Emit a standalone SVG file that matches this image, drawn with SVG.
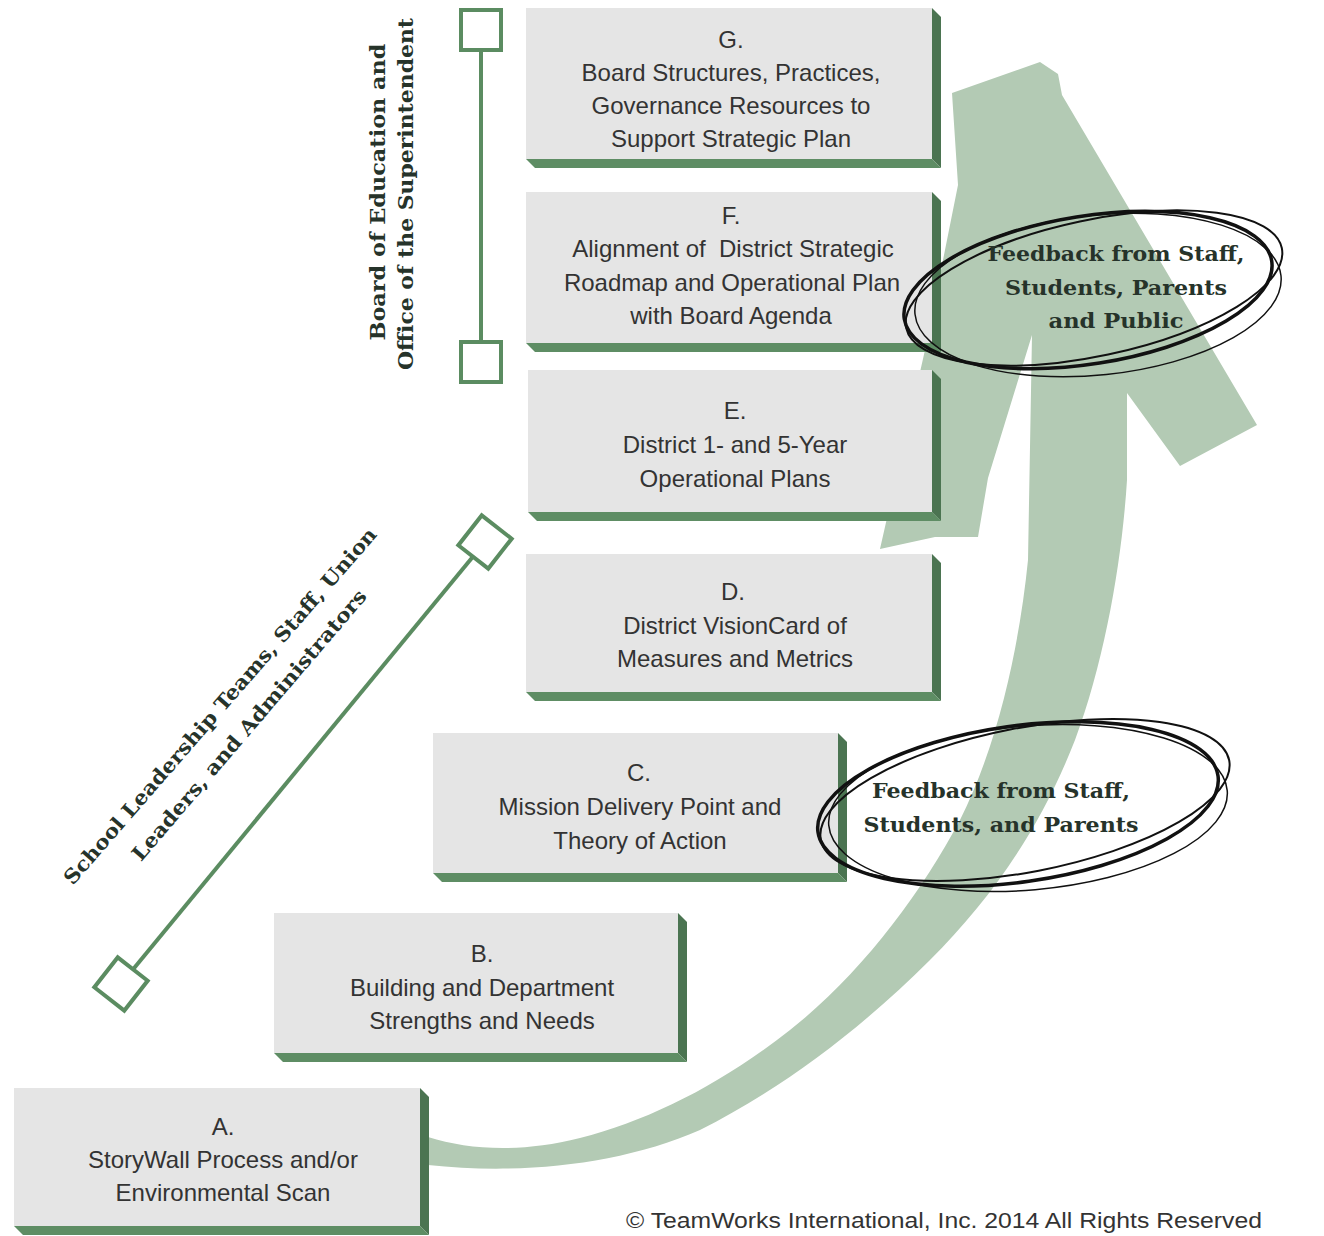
<svg xmlns="http://www.w3.org/2000/svg" width="1324" height="1236" viewBox="0 0 1324 1236">
<style>
.face{fill:#e5e5e5}
.ext-r{fill:#4b7451}
.ext-b{fill:#5e8d64}
.bt{font-family:"Liberation Sans",Arial,sans-serif;font-size:24px;fill:#333;text-anchor:middle;white-space:pre}
.slab{font-family:"DejaVu Serif",serif;font-weight:bold;font-size:20px;fill:#26332a;text-anchor:middle}
.br{fill:none;stroke:#5b8c61;stroke-width:4}
.sq{fill:#fff;stroke:#5b8c61;stroke-width:4}
.scr{fill:none;stroke:#111}
</style>
<rect width="1324" height="1236" fill="#fff"/>

<g id="arrow">
<path fill="#b3cab4" d="M428,1137 C470,1150 520,1153 580,1138 C650,1120 720,1085 790,1030 C860,975 920,895 960,820 C1000,740 1020,640 1028,560 L1032,335 L988,478 L978,537 L935,537 L880,549 L925,350 L958,185 L952,93 L1040,62 L1058,74 L1062,95 L1257,425 L1180,466 L1127,393 L1127,480 C1122,560 1105,660 1075,740 C1040,830 990,900 930,960 C860,1030 780,1090 700,1130 C620,1165 520,1175 428,1165 Z"/>
</g>

<g id="connectors">
<line class="br" x1="481" y1="30" x2="481" y2="362"/>
<line class="br" x1="485" y1="542" x2="121" y2="984"/>
<rect class="sq" x="461" y="10" width="40" height="40"/>
<rect class="sq" x="461" y="342" width="40" height="40"/>
<rect class="sq" x="-19" y="-19" width="38" height="38" transform="translate(485,542) rotate(-52)"/>
<rect class="sq" x="-19" y="-19" width="38" height="38" transform="translate(121,984) rotate(-52)"/>
</g>

<g id="label-board">
<text class="slab" transform="translate(378,192) rotate(-90)" y="7" textLength="297" lengthAdjust="spacingAndGlyphs">Board of Education and</text>
<text class="slab" transform="translate(406,194) rotate(-90)" y="7" textLength="352" lengthAdjust="spacingAndGlyphs">Office of the Superintendent</text>
</g>

<g id="label-school">
<text class="slab" transform="translate(220,706) rotate(-49)" y="7" textLength="465" lengthAdjust="spacingAndGlyphs">School Leadership Teams, Staff, Union</text>
<text class="slab" transform="translate(249,725) rotate(-49.5)" y="7" textLength="349" lengthAdjust="spacingAndGlyphs">Leaders, and Administrators</text>
</g>

<g id="node-G">
<polygon class="ext-r" points="932,8 941,17 941,168 932,159"/>
<polygon class="ext-b" points="526,159 932,159 941,168 535,168"/>
<rect class="face" x="526" y="8" width="406" height="151"/>
<text class="bt" x="731" y="48">G.</text>
<text class="bt" x="731" y="81">Board Structures, Practices,</text>
<text class="bt" x="731" y="114">Governance Resources to</text>
<text class="bt" x="731" y="147">Support Strategic Plan</text>
</g>

<g id="node-F">
<polygon class="ext-r" points="932,192 941,201 941,352 932,343"/>
<polygon class="ext-b" points="526,343 932,343 941,352 535,352"/>
<rect class="face" x="526" y="192" width="406" height="151"/>
<text class="bt" x="731" y="224">F.</text>
<text class="bt" x="733" y="257">Alignment of  District Strategic</text>
<text class="bt" x="732" y="291">Roadmap and Operational Plan</text>
<text class="bt" x="731" y="324">with Board Agenda</text>
</g>

<g id="node-E">
<polygon class="ext-r" points="932,370 941,379 941,521 932,512"/>
<polygon class="ext-b" points="528,512 932,512 941,521 537,521"/>
<rect class="face" x="528" y="370" width="404" height="142"/>
<text class="bt" x="735" y="419">E.</text>
<text class="bt" x="735" y="453">District 1- and 5-Year</text>
<text class="bt" x="735" y="487">Operational Plans</text>
</g>

<g id="node-D">
<polygon class="ext-r" points="932,554 941,563 941,701 932,692"/>
<polygon class="ext-b" points="526,692 932,692 941,701 535,701"/>
<rect class="face" x="526" y="554" width="406" height="138"/>
<text class="bt" x="733" y="600">D.</text>
<text class="bt" x="735" y="634">District VisionCard of</text>
<text class="bt" x="735" y="667">Measures and Metrics</text>
</g>

<g id="node-C">
<polygon class="ext-r" points="838,733 847,742 847,882 838,873"/>
<polygon class="ext-b" points="433,873 838,873 847,882 442,882"/>
<rect class="face" x="433" y="733" width="405" height="140"/>
<text class="bt" x="639" y="781">C.</text>
<text class="bt" x="640" y="815">Mission Delivery Point and</text>
<text class="bt" x="640" y="849">Theory of Action</text>
</g>

<g id="node-B">
<polygon class="ext-r" points="678,913 687,922 687,1062 678,1053"/>
<polygon class="ext-b" points="274,1053 678,1053 687,1062 283,1062"/>
<rect class="face" x="274" y="913" width="404" height="140"/>
<text class="bt" x="482" y="962">B.</text>
<text class="bt" x="482" y="996">Building and Department</text>
<text class="bt" x="482" y="1029">Strengths and Needs</text>
</g>

<g id="node-A">
<polygon class="ext-r" points="420,1088 429,1097 429,1235 420,1226"/>
<polygon class="ext-b" points="14,1226 420,1226 429,1235 23,1235"/>
<rect class="face" x="14" y="1088" width="406" height="138"/>
<text class="bt" x="223" y="1135">A.</text>
<text class="bt" x="223" y="1168">StoryWall Process and/or</text>
<text class="bt" x="223" y="1201">Environmental Scan</text>
</g>

<g id="feedback-top">
<ellipse class="scr" cx="1088" cy="290" rx="186" ry="74" transform="rotate(-9 1088 290)" stroke-width="3.5"/>
<ellipse class="scr" cx="1094" cy="288" rx="192" ry="68" transform="rotate(-12 1094 288)" stroke-width="2"/>
<ellipse class="scr" cx="1098" cy="295" rx="184" ry="80" transform="rotate(-6 1098 295)" stroke-width="1.5"/>
<text class="slab" x="1116" y="261" textLength="257" lengthAdjust="spacingAndGlyphs">Feedback from Staff,</text>
<text class="slab" x="1116" y="295" textLength="222" lengthAdjust="spacingAndGlyphs">Students, Parents</text>
<text class="slab" x="1116" y="328" textLength="135" lengthAdjust="spacingAndGlyphs">and Public</text>
</g>

<g id="feedback-bottom">
<ellipse class="scr" cx="1018" cy="804" rx="202" ry="78" transform="rotate(-8 1018 804)" stroke-width="3.5"/>
<ellipse class="scr" cx="1025" cy="800" rx="208" ry="72" transform="rotate(-11 1025 800)" stroke-width="2"/>
<ellipse class="scr" cx="1028" cy="808" rx="200" ry="82" transform="rotate(-5 1028 808)" stroke-width="1.5"/>
<text class="slab" x="1001" y="798" textLength="258" lengthAdjust="spacingAndGlyphs">Feedback from Staff,</text>
<text class="slab" x="1001" y="832" textLength="275" lengthAdjust="spacingAndGlyphs">Students, and Parents</text>
</g>

<g id="copyright">
<text x="944" y="1228" font-family="'Liberation Sans',Arial,sans-serif" font-size="22" fill="#333" text-anchor="middle" textLength="636" lengthAdjust="spacingAndGlyphs">© TeamWorks International, Inc. 2014 All Rights Reserved</text>
</g>
</svg>
